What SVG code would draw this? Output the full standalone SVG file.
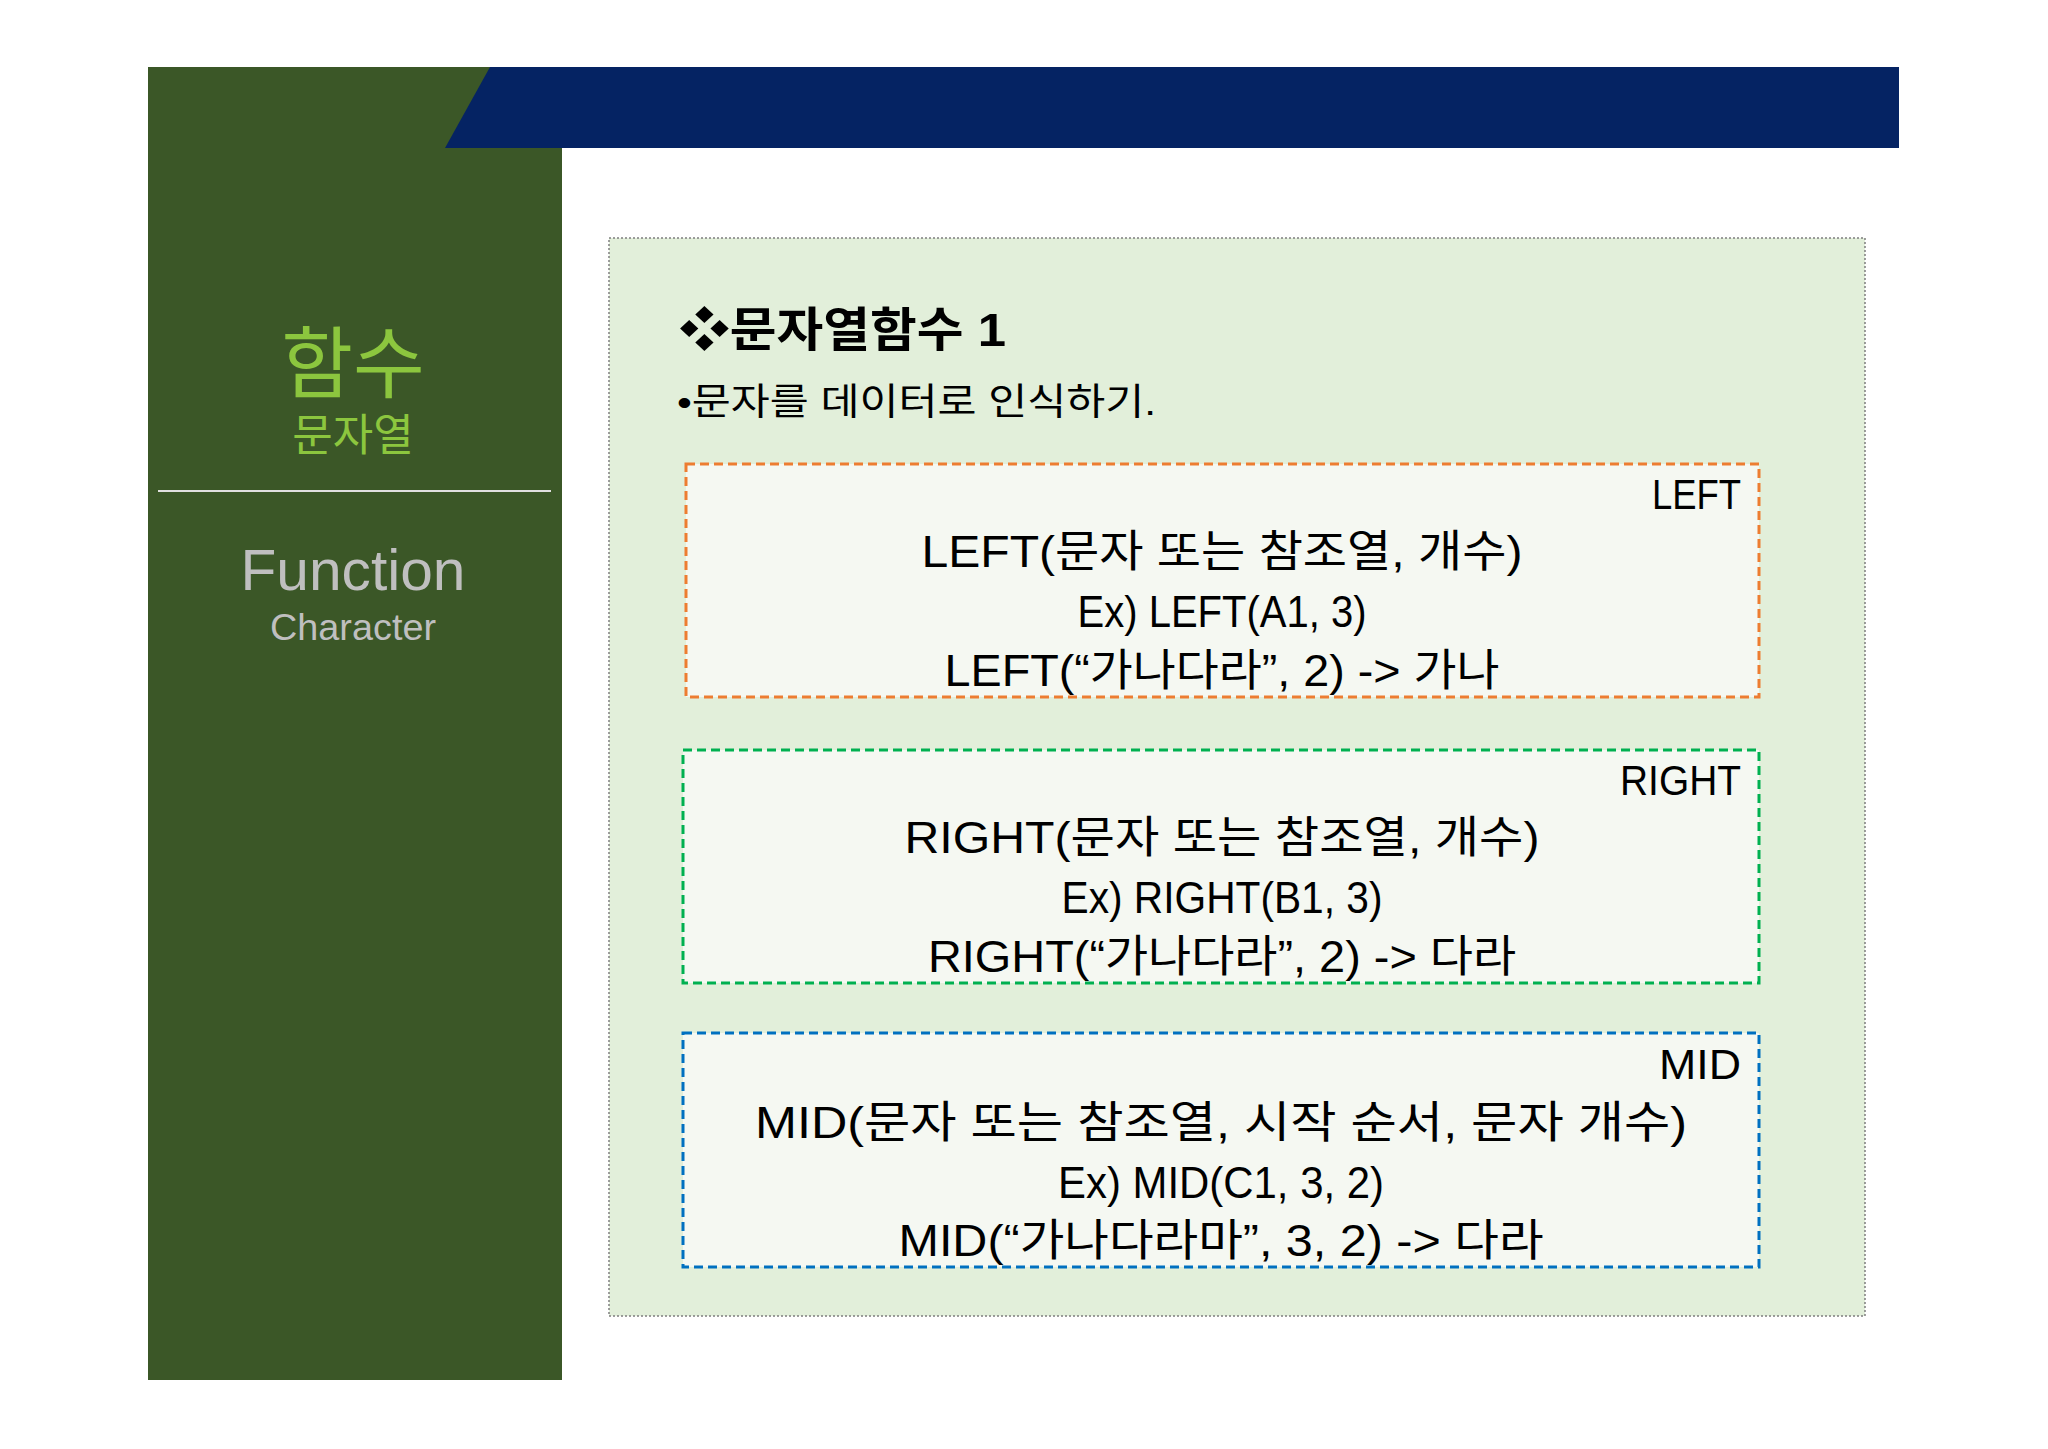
<svg xmlns="http://www.w3.org/2000/svg" width="2048" height="1449" viewBox="0 0 2048 1449">
<style>
.t{font-family:"Liberation Sans","Noto Sans CJK KR",sans-serif;fill:#000}
.c{text-anchor:middle;font-size:44px}
.lb{text-anchor:end;font-size:42px}
.box{stroke-width:3;stroke-dasharray:9 5;fill:#f5f8f2}
</style>
<rect width="2048" height="1449" fill="#fff"/>
<g id="sidebar">
<rect x="148" y="67" width="414" height="1313" fill="#3b5727"/>
<polygon points="490,67 1899,67 1899,148 445,148" fill="#052363"/>
<line x1="158" y1="491" x2="551" y2="491" stroke="#e0e0e0" stroke-width="2"/>
<text x="353" y="392" class="t" style="fill:#8cc63e;font-size:78px" text-anchor="middle">함수</text>
<text x="353" y="451" class="t" style="fill:#8cc63e;font-size:44px" text-anchor="middle">문자열</text>
<text x="353" y="590" class="t" style="fill:#bfbfbf;font-size:57px" text-anchor="middle" textLength="225" lengthAdjust="spacingAndGlyphs">Function</text>
<text x="353" y="640" class="t" style="fill:#bfbfbf;font-size:37px" text-anchor="middle" textLength="166" lengthAdjust="spacingAndGlyphs">Character</text>
</g>
<g id="panel">
<rect x="609" y="238" width="1256" height="1078" fill="#e2efda" stroke="#7f7f7f" stroke-width="1.5" stroke-dasharray="2 2"/>
<text x="679" y="346" class="t" style="font-size:47px;font-weight:bold" textLength="327" lengthAdjust="spacingAndGlyphs">❖문자열함수 1</text>
<text x="677" y="415" class="t" style="font-size:37px" textLength="479" lengthAdjust="spacingAndGlyphs">•문자를 데이터로 인식하기.</text>
</g>
<g id="left">
<rect x="686" y="464" width="1073" height="233" class="box" stroke="#ed7d31"/>
<text x="1741" y="509" class="t lb" textLength="89" lengthAdjust="spacingAndGlyphs">LEFT</text>
<text x="1222" y="567" class="t c" textLength="601" lengthAdjust="spacingAndGlyphs">LEFT(문자 또는 참조열, 개수)</text>
<text x="1222" y="627" class="t c" textLength="289" lengthAdjust="spacingAndGlyphs">Ex) LEFT(A1, 3)</text>
<text x="1222" y="686" class="t c" textLength="555" lengthAdjust="spacingAndGlyphs">LEFT(“가나다라”, 2) -&gt; 가나</text>
</g>
<g id="right">
<rect x="683" y="750" width="1076" height="233" class="box" stroke="#00b050"/>
<text x="1741" y="795" class="t lb" textLength="121" lengthAdjust="spacingAndGlyphs">RIGHT</text>
<text x="1222" y="853" class="t c" textLength="635" lengthAdjust="spacingAndGlyphs">RIGHT(문자 또는 참조열, 개수)</text>
<text x="1222" y="913" class="t c" textLength="321" lengthAdjust="spacingAndGlyphs">Ex) RIGHT(B1, 3)</text>
<text x="1222" y="972" class="t c" textLength="588" lengthAdjust="spacingAndGlyphs">RIGHT(“가나다라”, 2) -&gt; 다라</text>
</g>
<g id="mid">
<rect x="683" y="1033" width="1076" height="234" class="box" stroke="#0070c0"/>
<text x="1741" y="1079" class="t lb" textLength="82" lengthAdjust="spacingAndGlyphs">MID</text>
<text x="1221" y="1138" class="t c" textLength="932" lengthAdjust="spacingAndGlyphs">MID(문자 또는 참조열, 시작 순서, 문자 개수)</text>
<text x="1221" y="1198" class="t c" textLength="326" lengthAdjust="spacingAndGlyphs">Ex) MID(C1, 3, 2)</text>
<text x="1221" y="1256" class="t c" textLength="645" lengthAdjust="spacingAndGlyphs">MID(“가나다라마”, 3, 2) -&gt; 다라</text>
</g>
<g id="connectors"/>
</svg>
